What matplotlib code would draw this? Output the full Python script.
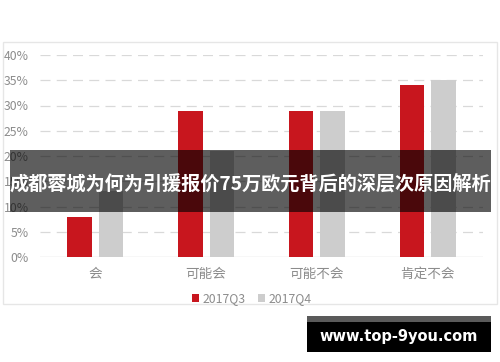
import matplotlib
matplotlib.use("Agg")
import matplotlib.pyplot as plt
import numpy as np
from matplotlib.patches import Rectangle

plt.rcParams['font.family'] = ['Noto Sans CJK SC', 'DejaVu Sans']

categories = ['会', '可能会', '可能不会', '肯定不会']
series_names = ['2017Q3', '2017Q4']
q3 = [0.08, 0.29, 0.29, 0.34]
q4 = [0.13, 0.21, 0.29, 0.35]
yticks = [0, 0.05, 0.10, 0.15, 0.20, 0.25, 0.30, 0.35, 0.40]
ytick_labels = ['0%', '5%', '10%', '15%', '20%', '25%', '30%', '35%', '40%']
banner_text = '成都蓉城为何为引援报价75万欧元背后的深层次原因解析'
watermark = 'www.top-9you.com'

W, H = 500, 362
fig = plt.figure(figsize=(W / 100, H / 100), dpi=100)
fig.patch.set_facecolor('white')

# outer frame
fig.patches.append(Rectangle((3 / W, 1 - 304 / H), 494 / W, 262 / H,
                             transform=fig.transFigure, fill=False,
                             edgecolor='#e6e6e6', linewidth=1.0, zorder=0))

ax = fig.add_axes([40 / W, 1 - 257 / H, 443 / W, 202 / H])
x = np.arange(len(categories))
bw = 0.222
off = 0.142
red = '#c8161e'
gray = '#cdcdcd'
ax.bar(x - off, q3, bw, color=red, label=series_names[0], zorder=3)
ax.bar(x + off, q4, bw, color=gray, label=series_names[1], zorder=3)

ax.set_xlim(-0.5, 3.5)
ax.set_ylim(0, 0.4)
ax.set_yticks(yticks)
ax.set_yticklabels(ytick_labels)
ax.set_xticks(x)
ax.set_xticklabels(categories)
for yv in yticks[1:]:
    ax.axhline(yv, color='#d9d9d9', linewidth=0.9, dashes=(8, 5), zorder=1)
ax.axhline(0, color='#d9d9d9', linewidth=1.0, zorder=2)
for s in ax.spines.values():
    s.set_visible(False)
ax.tick_params(axis='both', length=0, colors='#8c8c8c')
ax.tick_params(axis='y', labelsize=8.8, pad=8)
ax.tick_params(axis='x', labelsize=9.8, pad=7)
ax.set_facecolor('none')

leg = fig.legend(loc='center', bbox_to_anchor=(252 / W, 1 - 299 / H), ncol=2,
                 frameon=False, fontsize=8.8, handlelength=0.55, handleheight=0.55,
                 handletextpad=0.3, columnspacing=1.0)
for t in leg.get_texts():
    t.set_color('#8c8c8c')

# banner overlay
fig.patches.append(Rectangle((10 / W, 1 - 212 / H), 481 / W, 62 / H,
                             transform=fig.transFigure, facecolor='black',
                             alpha=0.63, edgecolor='none', zorder=10))
fig.text(250 / W, 1 - 185 / H, banner_text, ha='center', va='center',
         color='white', fontsize=13.8, fontweight='bold', zorder=11)

# watermark box
fig.patches.append(Rectangle((307 / W, 1 - 352 / H), 184 / W, 36 / H,
                             transform=fig.transFigure, facecolor='black',
                             edgecolor='none', zorder=10))
fig.patches.append(Rectangle((307 / W, 1 - 322 / H), 184 / W, 6 / H,
                             transform=fig.transFigure, facecolor='#5a5a5a',
                             edgecolor='none', zorder=10))
fig.text(399 / W, 1 - 337 / H, watermark, ha='center', va='center',
         color='white', fontsize=10.5, fontweight='bold',
         family=['DejaVu Sans'], zorder=11)

fig.savefig('out.png', dpi=100, facecolor='white')
